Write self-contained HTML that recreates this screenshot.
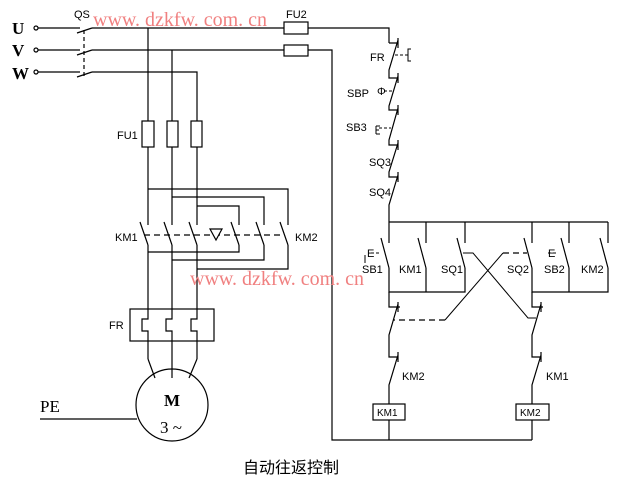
<!DOCTYPE html>
<html><head><meta charset="utf-8"><style>
html,body{margin:0;padding:0;background:#fff;}
svg{display:block}
text{font-family:"Liberation Sans","DejaVu Sans",sans-serif;font-size:11px;fill:#000}
.w{font-family:"Liberation Serif",serif;font-size:20px;fill:#f08080}
</style></head><body>
<svg width="625" height="484" viewBox="0 0 625 484" xmlns="http://www.w3.org/2000/svg">
<g stroke="#000" stroke-width="1.2" fill="none">
<!-- inputs -->
<circle cx="36" cy="28" r="2"/><circle cx="36" cy="50" r="2"/><circle cx="36" cy="72" r="2"/>
<path d="M38 28H80M38 50H80M38 72H80"/>
<path d="M77 33L92 28M77 55L92 50M77 77L92 72"/>
<path d="M84 30V76" stroke-dasharray="4 3"/>
<path d="M92 28H284M308 28H389V43M92 50H284M308 50H332V440H532M92 72H197V121"/>
<rect x="284" y="22" width="24" height="12"/><rect x="284" y="45" width="24" height="11"/>
<!-- buses -->
<path d="M148 28V121M172 50V121M148 147V225M172 147V225M197 147V225"/>
<rect x="142" y="121" width="12" height="26"/><rect x="167" y="121" width="11" height="26"/><rect x="191" y="121" width="11" height="26"/>
<path d="M148 189H288V225M172 197H264V225M197 206H239V225"/>
<path d="M140 222L148 245M164 222L172 245M189 222L197 245M231 222L239 245M256 222L264 245M280 222L288 245"/>
<path d="M148 245V309M172 245V309M197 245V309M239 245V252H148M264 245V260H172M288 245V269H197"/>
<path d="M144 235H284" stroke-dasharray="6 4"/>
<path d="M210 229H222L216 240Z" fill="#fff"/>
<!-- FR -->
<rect x="130" y="309" width="84" height="32"/>
<path d="M148 309V319H142V331H148V359M172 309V319H166V331H172V359M197 309V319H191V331H197V359"/>
<path d="M148 359L155 378M172 359V378M197 359L189 378"/>
<circle cx="172" cy="405" r="36"/>
<path d="M40 419H137"/>
<!-- control column -->
<path d="M389 43H398M398 38V48M398 40L389 70V78H398M398 73V83M398 76L389 106V110H398M398 105V115M398 108L389 140V145H398M398 140V150M398 143L389 172V177H398M398 172V182M398 175L389 205V222"/>
<path d="M395 55H406M384 91H394M379 128H391" stroke-dasharray="3 2" stroke-width="1"/>
<path d="M411 49H408V61H411M406 55H408" stroke-width="1"/>
<path d="M376 126V134M376 126H380M376 130H379M376 134H380M365 255V263" stroke-width="1"/>
<path d="M389 222H608M389 222V243M426 222V243M465 222V243M532 222V243M569 222V243M608 222V243"/>
<path d="M381 238L389 268M418 238L426 268M457 238L465 268M524 238L532 268M561 238L569 268M600 238L608 268"/>
<path d="M389 268V292H465V268M426 268V292M532 268V292H608V268M569 268V292"/>
<path d="M389 292V307H400M398 302V312M398 304L389 335V357H398M398 352V362M398 355L389 385V404M532 292V307H543M541 302V312M541 304L532 335V357H541M541 352V362M541 355L532 385V404"/>
<rect x="373" y="404" width="32" height="16"/><rect x="516" y="404" width="33" height="16"/>
<path d="M389 420V440M532 420V440"/>
<path d="M463 253H473L528 318H536M503 253L445 320" stroke-width="1"/>
<path d="M371 253H380M548 253H557" stroke-dasharray="3 2" stroke-width="1"/>
</g>
<path d="M445 320H393M503 253H527" stroke="#000" stroke-width="1.2" stroke-dasharray="6 4"/>
<text x="12" y="34" style="font-family:'Liberation Serif',serif;font-size:17px;font-weight:bold">U</text>
<text x="12" y="56" style="font-family:'Liberation Serif',serif;font-size:17px;font-weight:bold">V</text>
<text x="12" y="79" style="font-family:'Liberation Serif',serif;font-size:17px;font-weight:bold">W</text>
<text x="74" y="18">QS</text>
<text x="286" y="18">FU2</text>
<text x="117" y="139">FU1</text>
<text x="115" y="241">KM1</text>
<text x="295" y="241">KM2</text>
<text x="109" y="329">FR</text>
<text x="164" y="406" style="font-family:'Liberation Serif',serif;font-size:17px;font-weight:bold">M</text>
<text x="160" y="433" style="font-family:'Liberation Serif',serif;font-size:17px">3 ~</text>
<text x="40" y="412" style="font-family:'Liberation Serif',serif;font-size:17px">PE</text>
<text x="370" y="61">FR</text>
<text x="347" y="97">SBP</text><text x="377" y="95">Φ</text>
<text x="346" y="131">SB3</text>
<text x="369" y="166">SQ3</text>
<text x="369" y="196">SQ4</text>
<text x="367" y="257">E</text><text x="362" y="273">SB1</text>
<text x="399" y="273">KM1</text>
<text x="441" y="273">SQ1</text>
<text x="507" y="273">SQ2</text>
<text x="548" y="257">E</text><text x="544" y="273">SB2</text>
<text x="581" y="273">KM2</text>
<text x="402" y="380">KM2</text>
<text x="546" y="380">KM1</text>
<text x="377" y="416" style="font-size:10px">KM1</text>
<text x="520" y="416" style="font-size:10px">KM2</text>
<text x="243" y="473" style="font-family:'Liberation Sans','Noto Sans CJK SC',sans-serif;font-size:16px">自动往返控制</text>
<text class="w" x="93" y="26">www. dzkfw. com. cn</text>
<text class="w" x="190" y="285">www. dzkfw. com. cn</text>
</svg>
</body></html>
